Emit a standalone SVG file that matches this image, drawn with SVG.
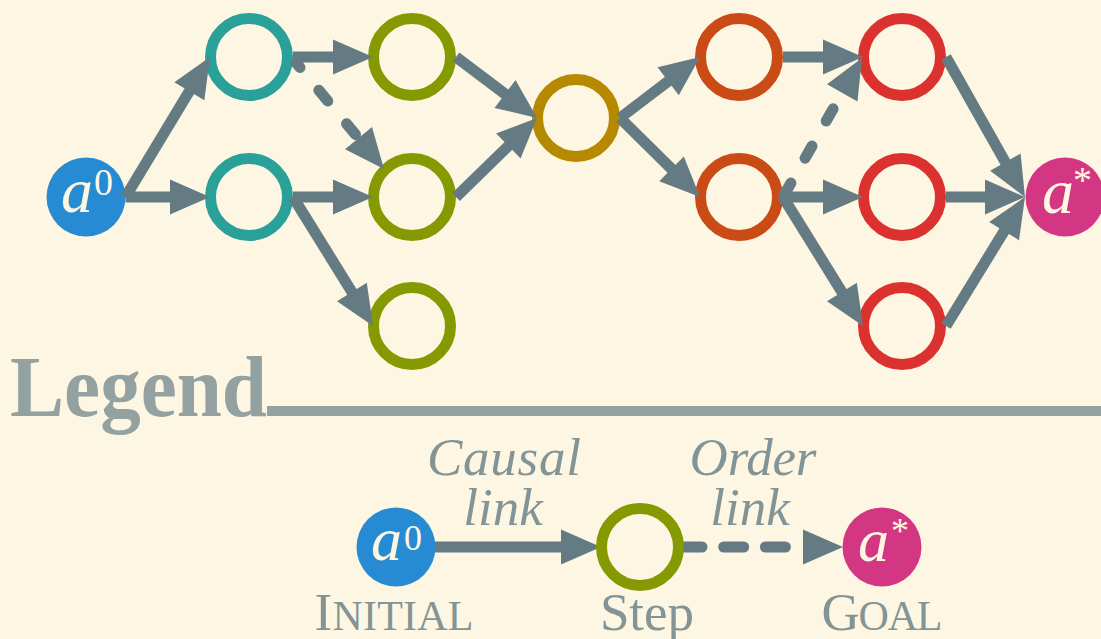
<svg xmlns="http://www.w3.org/2000/svg" width="1101" height="639" viewBox="0 0 1101 639">
<defs>
<style>
.ring{fill:none;stroke-width:11}
.fill{stroke:none}
.ln{stroke:#657b83;stroke-width:11;fill:none}
.dash{stroke-linecap:round}
.lbl{font-family:"Liberation Serif",serif;font-style:italic;fill:#fdf6e3}
.sup{font-family:"Liberation Serif",serif;font-style:normal;fill:#fdf6e3}
.cap{font-family:"Liberation Serif",serif;fill:#839496}
.lnk{font-family:"Liberation Serif",serif;font-style:italic;fill:#839496;font-size:53px;text-anchor:middle}
</style>
<marker id="arr" markerUnits="userSpaceOnUse" markerWidth="40" markerHeight="35" viewBox="0 0 40 35" refX="8" refY="17.5" orient="auto" overflow="visible">
<path d="M0,0 L40,17.5 L0,35 Z" fill="#657b83"/>
</marker>
<marker id="arr0" markerUnits="userSpaceOnUse" markerWidth="40" markerHeight="35" viewBox="0 0 40 35" refX="0" refY="17.5" orient="auto" overflow="visible">
<path d="M0,0 L40,17.5 L0,35 Z" fill="#657b83"/>
</marker>
</defs>
<rect x="0" y="0" width="1101" height="639" fill="#fdf6e3"/>

<g id="node-a0">
<circle class="fill" cx="86" cy="197" r="39.5" fill="#268bd2"/>
<text class="lbl" x="61" y="212" font-size="64">a</text>
<text class="sup" x="94" y="195" font-size="38">0</text>
</g>
<g id="node-c1"><circle class="ring" cx="249" cy="57" r="38.5" stroke="#2aa198"/></g>
<g id="node-c2"><circle class="ring" cx="249" cy="197" r="38.5" stroke="#2aa198"/></g>
<g id="node-g1"><circle class="ring" cx="412" cy="57" r="38.5" stroke="#859900"/></g>
<g id="node-g2"><circle class="ring" cx="412" cy="197" r="38.5" stroke="#859900"/></g>
<g id="node-g3"><circle class="ring" cx="412" cy="326" r="38.5" stroke="#859900"/></g>
<g id="node-y"><circle class="ring" cx="576" cy="118" r="38.5" stroke="#b58900"/></g>
<g id="node-o1"><circle class="ring" cx="739" cy="57" r="38.5" stroke="#cb4b16"/></g>
<g id="node-o2"><circle class="ring" cx="739" cy="197" r="38.5" stroke="#cb4b16"/></g>
<g id="node-r1"><circle class="ring" cx="902" cy="57" r="38.5" stroke="#dc322f"/></g>
<g id="node-r2"><circle class="ring" cx="902" cy="197" r="38.5" stroke="#dc322f"/></g>
<g id="node-r3"><circle class="ring" cx="902" cy="326" r="38.5" stroke="#dc322f"/></g>
<g id="node-goal">
<circle class="fill" cx="1065" cy="197" r="39.5" fill="#d33682"/>
<text class="lbl" x="1042" y="213" font-size="64">a</text>
<text class="sup" x="1073" y="193" font-size="38">*</text>
</g>

<g id="connectors">
<line class="ln" x1="125.5" y1="197" x2="193.46" y2="84.40" marker-end="url(#arr)"/>
<line class="ln" x1="125.5" y1="197" x2="178" y2="197" marker-end="url(#arr)"/>
<line class="ln" x1="293" y1="57" x2="341" y2="57" marker-end="url(#arr)"/>
<line class="ln dash" x1="295.9" y1="62.5" x2="363.6" y2="144.34" stroke-dasharray="14 29.5" stroke-dashoffset="7.5" marker-end="url(#arr)"/>
<line class="ln" x1="293" y1="197" x2="341" y2="197" marker-end="url(#arr)"/>
<line class="ln" x1="293" y1="197" x2="356.14" y2="298.80" marker-end="url(#arr)"/>
<line class="ln" x1="456" y1="57" x2="511.44" y2="98.75" marker-end="url(#arr)"/>
<line class="ln" x1="456" y1="197" x2="514.09" y2="140.34" marker-end="url(#arr)"/>
<line class="ln" x1="620" y1="118" x2="674.55" y2="76.40" marker-end="url(#arr)"/>
<line class="ln" x1="620" y1="118" x2="677.23" y2="174.51" marker-end="url(#arr)"/>
<line class="ln" x1="783" y1="57" x2="831" y2="57" marker-end="url(#arr)"/>
<line class="ln dash" x1="783" y1="197" x2="846.19" y2="85.82" stroke-dasharray="14 28.7" stroke-dashoffset="40.7" marker-end="url(#arr)"/>
<line class="ln" x1="783" y1="197" x2="831" y2="197" marker-end="url(#arr)"/>
<line class="ln" x1="783" y1="197" x2="846.14" y2="298.80" marker-end="url(#arr)"/>
<line class="ln" x1="946" y1="57" x2="1009.27" y2="169.13" marker-end="url(#arr)"/>
<line class="ln" x1="946" y1="197" x2="993" y2="197" marker-end="url(#arr)"/>
<line class="ln" x1="946" y1="326" x2="1008.29" y2="224.29" marker-end="url(#arr)"/>
</g>

<g id="legend-title">
<text x="10" y="416" font-family="Liberation Serif, serif" font-weight="bold" font-size="86" fill="#93a1a1" textLength="257" lengthAdjust="spacingAndGlyphs">Legend</text>
<rect x="267" y="406" width="834" height="10" fill="#93a1a1"/>
</g>

<g id="legend-connectors">
<line class="ln" x1="430" y1="547" x2="569" y2="547" marker-end="url(#arr)"/>
<line class="ln dash" x1="682" y1="547" x2="803" y2="547" stroke-dasharray="20 21.7" marker-end="url(#arr0)"/>
<text class="lnk" x="504" y="475" textLength="154">Causal</text>
<text class="lnk" x="503" y="525">link</text>
<text class="lnk" x="753" y="475" textLength="127">Order</text>
<text class="lnk" x="750" y="525">link</text>
</g>

<g id="legend-initial">
<circle class="fill" cx="396" cy="547" r="39.5" fill="#268bd2"/>
<text class="lbl" x="371" y="560" font-size="62">a</text>
<text class="sup" x="404" y="550" font-size="36">0</text>
<text class="cap" x="394" y="630" text-anchor="middle" textLength="159"><tspan font-size="53">I</tspan><tspan font-size="42">NITIAL</tspan></text>
</g>
<g id="legend-step">
<circle class="ring" cx="640" cy="547" r="38.5" stroke="#859900"/>
<text class="cap" x="647" y="630" text-anchor="middle" font-size="53">Step</text>
</g>
<g id="legend-goal">
<circle class="fill" cx="882" cy="547" r="39.5" fill="#d33682"/>
<text class="lbl" x="858" y="561" font-size="62">a</text>
<text class="sup" x="891" y="543" font-size="36">*</text>
<text class="cap" x="882" y="630" text-anchor="middle" textLength="121"><tspan font-size="53">G</tspan><tspan font-size="42">OAL</tspan></text>
</g>
</svg>
